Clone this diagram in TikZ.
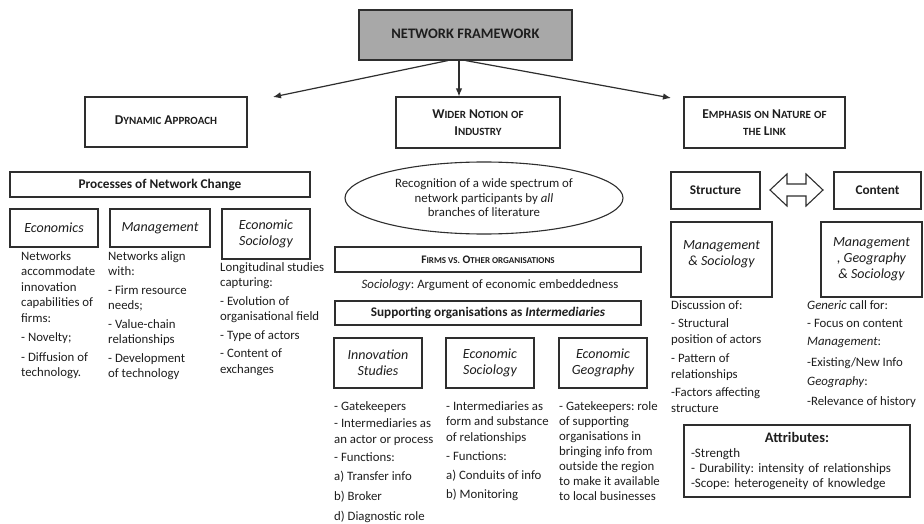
\documentclass[tikz,border=0pt]{standalone}
\usepackage{fontspec}
\setmainfont{Carlito}
\usetikzlibrary{shapes.geometric,shadows,arrows.meta}
\definecolor{ink}{HTML}{1E1E1E}
\definecolor{edge}{HTML}{2E2E2E}
\definecolor{topfill}{HTML}{A8A8A8}
\newcommand\smc[1]{{\fontsize{11}{16}\selectfont #1}}
\newcommand\smcs[1]{{\fontsize{9}{12}\selectfont #1}}
\newcommand\fl{\rule{0pt}{10pt}}
\frenchspacing
\begin{document}
\begin{tikzpicture}[x=1pt,y=-1pt,
  every node/.style={text=ink},
  box/.style={draw=edge, line width=1.1pt, fill=white, rectangle, inner sep=1pt, align=center,
    drop shadow={shadow xshift=1.3pt, shadow yshift=-1.3pt, fill=black!70, opacity=0.8}},
  headsc/.style={font=\bfseries\fontsize{13.5}{17}\selectfont},
  headbf/.style={font=\bfseries\fontsize{13.3}{15}\selectfont},
  headit/.style={font=\itshape\fontsize{14}{16}\selectfont},
  txt/.style={align=left, anchor=north west, inner sep=0pt, font=\fontsize{12.8}{15.5}\selectfont},
  arr/.style={draw=edge, line width=1.2pt, -{Latex[length=8pt,width=6.5pt]}}
]
\useasboundingbox (0,0) rectangle (924,524);
\fill[white] (0,0) rectangle (924,524);

% top level
\node[box, fill=topfill, minimum width=213, minimum height=50, font=\bfseries\fontsize{14.5}{16}\selectfont] (top) at (465.5,35) {\raisebox{3pt}{NETWORK FRAMEWORK}};
\node[box, headsc, minimum width=162, minimum height=50] (dyn) at (166,122) {\raisebox{4pt}{D\smc{YNAMIC} A\smc{PPROACH}}};
\node[box, headsc, minimum width=164, minimum height=51] (wider) at (478,122.5) {W\smc{IDER} N\smc{OTION} \smc{OF}\\I\smc{NDUSTRY}};
\node[box, headsc, minimum width=161, minimum height=51] (emph) at (764.5,122.5) {E\smc{MPHASIS} \smc{ON} N\smc{ATURE} \smc{OF}\\\smc{THE} L\smc{INK}};

\coordinate (tL) at (273,97);
\coordinate (tR) at (671,98);
\draw[arr] ([xshift=-17.5]top.south) -- (tL);
\draw[arr] ([xshift=-6.5]top.south) -- ([xshift=-6.5]top.south |- wider.north);
\draw[arr] ([xshift=0]top.south) -- (tR);

% left column
\node[box, headbf, minimum width=300, minimum height=25] (proc) at (160,184.5) {Processes of Network Change};
\node[box, headit, minimum width=88, minimum height=38] (econ) at (54,228) {Economics};
\node[box, headit, minimum width=100, minimum height=38] (mgmt) at (160,228) {Management};
\node[box, headit, minimum width=88, minimum height=50] (esoc) at (266,234) {Economic\\Sociology};

\node[txt] (econT) at (21,250) {\fl Networks\\accommodate\\innovation\\capabilities of\\firms:\\[4pt]- Novelty;\\[4pt]- Diffusion of\\technology.};
\node[txt] (mgmtT) at (108,250) {\fl Networks align\\with:\\[3pt]- Firm resource\\needs;\\[3pt]- Value-chain\\relationships\\[3pt]- Development\\of technology};
\node[txt] (esocT) at (220,261) {\fl Longitudinal studies\\capturing:\\[3pt]- Evolution of\\organisational field\\[3pt]- Type of actors\\[3pt]- Content of\\exchanges};

% middle column
\node[ellipse, draw=edge, line width=1.1pt, minimum width=278, minimum height=72, inner sep=0pt, align=center, font=\fontsize{12.8}{14.5}\selectfont] (ell) at (484,198) {Recognition of a wide spectrum of\\network participants by \textit{all}\\branches of literature};
\node[box, font=\bfseries\fontsize{11.5}{13}\selectfont, minimum width=306, minimum height=25] (firms) at (488,259.5) {F\smcs{IRMS VS.} O\smcs{THER ORGANISATIONS}};
\node[inner sep=0pt, font=\fontsize{12.8}{15}\selectfont] (soc) at (490,285) {\textit{Sociology}: Argument of economic embeddedness};
\node[box, font=\bfseries\fontsize{13.2}{15}\selectfont, minimum width=306, minimum height=24] (supp) at (488,313) {Supporting organisations as \textit{Intermediaries}};
\node[box, headit, minimum width=88, minimum height=50] (innov) at (378,363) {Innovation\\Studies};
\node[box, headit, minimum width=88, minimum height=50] (esoc2) at (490,363) {Economic\\Sociology};
\node[box, headit, minimum width=88, minimum height=50] (egeo) at (603,363) {Economic\\Geography};

\node[txt] (innovT) at (334,400) {\fl - Gatekeepers\\[2pt]- Intermediaries as\\an actor or process\\[2.5pt]- Functions:\\[3.5pt]a) Transfer info\\[4.5pt]b) Broker\\[4.5pt]d) Diagnostic role};
\node[txt] (esoc2T) at (446,400) {\fl - Intermediaries as\\form and substance\\of relationships\\[3.5pt]- Functions:\\[3.5pt]a) Conduits of info\\[3.5pt]b) Monitoring};
\node[txt, font=\fontsize{12.8}{15}\selectfont] (egeoT) at (559,400) {\fl - Gatekeepers: role\\of supporting\\organisations in\\bringing info from\\outside the region\\to make it available\\to local businesses};

% right column
\node[box, headbf, minimum width=89, minimum height=37] (struct) at (715.5,190.5) {Structure};
\node[box, headbf, minimum width=87, minimum height=37] (cont) at (877.5,190.5) {Content};
\draw[draw=edge, line width=1.1pt, fill=white] (770,190) -- (787,174) -- (787,184) -- (806,184) -- (806,174) -- (823,190) -- (806,206) -- (806,196) -- (787,196) -- (787,206) -- cycle;
\node[box, headit, minimum width=101, minimum height=75] (mgsoc) at (721.5,259.5) {Management\\\& Sociology\\[-4pt]\mbox{}};
\node[box, headit, minimum width=101, minimum height=75] (mgs3) at (871.5,259.5) {Management\\, Geography\\\& Sociology};

\node[txt, font=\fontsize{12.8}{16}\selectfont] (structT) at (671,299) {\fl Discussion of:\\[2.5pt]- Structural\\position of actors\\[2.5pt]- Pattern of\\relationships\\[2.5pt]-Factors affecting\\structure};
\node[txt, font=\fontsize{12.8}{16}\selectfont] (contT) at (807,299) {\fl \textit{Generic} call for:\\[2.5pt]- Focus on content\\[1.5pt]\textit{Management}:\\[5pt]-Existing/New Info\\[3.5pt]\textit{Geography}:\\[3.5pt]-Relevance of history};

\node[box, minimum width=226, minimum height=72, text width=212, align=left, font=\fontsize{13}{15}\selectfont] (attr) at (797,461) {\makebox[\linewidth][c]{\bfseries\fontsize{14.5}{16}\selectfont Attributes:}\\-Strength\\- Durability: intensity of relationships\\-Scope: heterogeneity of knowledge};
\end{tikzpicture}
\end{document}
